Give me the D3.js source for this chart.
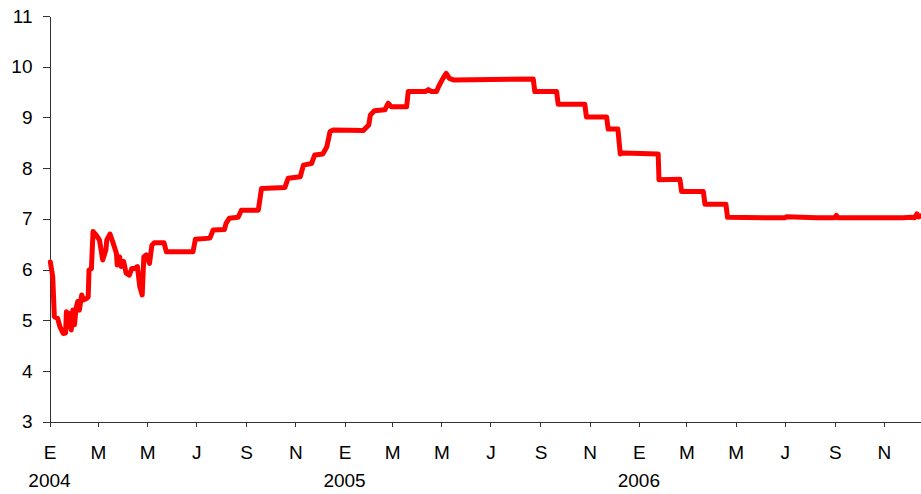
<!DOCTYPE html>
<html>
<head>
<meta charset="utf-8">
<script src="https://cdn.jsdelivr.net/npm/d3@7"></script>
<style>
  html, body { margin: 0; padding: 0; background: #fff; }
  svg { display: block; }
  .axis text { font-family: "Liberation Sans", Arial, sans-serif; font-size: 19px; fill: #000; }
  .axis path, .axis line { stroke: #333; stroke-width: 1; shape-rendering: crispEdges; }
</style>
</head>
<body>
<div id="chart"></div>
<script>
// data (daily rate, %)
var dates = [
  "2004-01-02","2004-01-05","2004-01-07","2004-01-11","2004-01-14","2004-01-18","2004-01-21","2004-01-22",
  "2004-01-24","2004-01-27","2004-01-28","2004-01-30","2004-02-01","2004-02-03","2004-02-05","2004-02-07",
  "2004-02-10","2004-02-12","2004-02-16","2004-02-18","2004-02-19","2004-02-22","2004-02-24","2004-02-28",
  "2004-03-03","2004-03-07","2004-03-11","2004-03-12","2004-03-16","2004-03-20","2004-03-24","2004-03-25",
  "2004-03-28","2004-03-30","2004-04-02","2004-04-05","2004-04-09","2004-04-12","2004-04-15","2004-04-19",
  "2004-04-22","2004-04-25","2004-04-27","2004-04-30","2004-05-04","2004-05-07","2004-05-10","2004-05-22",
  "2004-05-25","2004-06-27","2004-06-30","2004-07-18","2004-07-22","2004-08-05","2004-08-07","2004-08-11",
  "2004-08-22","2004-08-26","2004-09-16","2004-09-20","2004-10-19","2004-10-23","2004-11-07","2004-11-11",
  "2004-11-21","2004-11-25","2004-12-05","2004-12-10","2004-12-14","2004-12-18","2005-01-24","2005-01-31",
  "2005-02-02","2005-02-07","2005-02-20","2005-02-24","2005-02-28","2005-03-19","2005-03-21","2005-04-11",
  "2005-04-15","2005-04-19","2005-04-25","2005-04-28","2005-05-03","2005-05-07","2005-05-11","2005-05-16",
  "2005-08-23","2005-08-25","2005-09-21","2005-09-23","2005-10-26","2005-10-28","2005-11-22","2005-11-24",
  "2005-12-06","2005-12-09","2005-12-13","2006-01-25","2006-01-26","2006-02-21","2006-02-23","2006-03-22",
  "2006-03-24","2006-04-19","2006-04-21","2006-06-10","2006-07-01","2006-07-03","2006-08-10","2006-09-01",
  "2006-09-03","2006-09-05","2006-10-20","2006-11-25","2006-12-05","2006-12-09","2006-12-12","2006-12-14",
  "2006-12-17"
];
var rates = [
  6.15, 5.86, 5.07, 5.04, 4.87, 4.74, 4.75, 5.17,
  4.87, 5.14, 4.81, 5.20, 4.91, 5.24, 5.37, 5.20,
  5.50, 5.40, 5.43, 5.46, 5.99, 6.02, 6.75, 6.68,
  6.58, 6.19, 6.39, 6.58, 6.70, 6.52, 6.32, 6.09,
  6.25, 6.06, 6.16, 5.93, 5.89, 6.02, 6.02, 6.06,
  5.66, 5.50, 6.25, 6.29, 6.12, 6.48, 6.53, 6.53,
  6.35, 6.35, 6.60, 6.62, 6.78, 6.79, 6.91, 7.01,
  7.03, 7.17, 7.17, 7.60, 7.62, 7.80, 7.83, 8.06,
  8.09, 8.26, 8.28, 8.42, 8.72, 8.75, 8.74, 8.85,
  9.05, 9.13, 9.15, 9.28, 9.21, 9.21, 9.51, 9.51,
  9.55, 9.51, 9.51, 9.62, 9.77, 9.87, 9.77, 9.74,
  9.76, 9.51, 9.51, 9.26, 9.26, 9.01, 9.01, 8.77,
  8.77, 8.28, 8.30, 8.28, 7.77, 7.78, 7.54, 7.54,
  7.29, 7.29, 7.03, 7.02, 7.02, 7.04, 7.02, 7.02,
  7.07, 7.02, 7.02, 7.02, 7.03, 7.02, 7.10, 7.04,
  7.06
];
var yTicks = [3, 4, 5, 6, 7, 8, 9, 10, 11];
var monthLetters = ["E", "F", "M", "A", "M", "J", "J", "A", "S", "O", "N", "D"];
var startDate = "2004-01-01";
var endDate = "2006-12-17";

var width = 921, height = 494;
var margin = {left: 49.5, right: 0, top: 16, bottom: 72.3};

var parse = d3.timeParse("%Y-%m-%d");
var data = dates.map(function (d, i) { return {date: parse(d), value: rates[i]}; });

var x = d3.scaleTime()
    .domain([parse(startDate), parse(endDate)])
    .range([margin.left, width - margin.right]);
var y = d3.scaleLinear()
    .domain([3, 11])
    .range([height - margin.bottom, margin.top]);

var svg = d3.select("#chart").append("svg")
    .attr("width", width)
    .attr("height", height);

// y axis
var yAxis = svg.append("g")
    .attr("class", "axis")
    .attr("transform", "translate(" + margin.left + ",0)")
    .call(d3.axisLeft(y).tickValues(yTicks).tickSize(6.5).tickPadding(10.5).tickSizeOuter(0));

// x axis, a tick every two months
var monthTicks = d3.timeMonth.every(2).range(parse(startDate), parse(endDate));
var xAxis = svg.append("g")
    .attr("class", "axis")
    .attr("transform", "translate(0," + y(3) + ")")
    .call(d3.axisBottom(x).tickValues(monthTicks).tickSize(5).tickSizeOuter(0)
        .tickFormat(function (d) { return monthLetters[d.getMonth()]; }));
xAxis.selectAll(".tick text").attr("y", 23.5);

// year labels under each January
var years = monthTicks.filter(function (d) { return d.getMonth() === 0; });
xAxis.selectAll(".year")
    .data(years)
    .enter().append("text")
    .attr("class", "year")
    .attr("x", function (d) { return x(d); })
    .attr("y", 65.5)
    .attr("text-anchor", "middle")
    .text(function (d) { return d.getFullYear(); });

// the rate line
var line = d3.line()
    .x(function (d) { return x(d.date); })
    .y(function (d) { return y(d.value); });

svg.append("path")
    .datum(data)
    .attr("fill", "none")
    .attr("stroke", "#ff0000")
    .attr("stroke-width", 5)
    .attr("stroke-linejoin", "round")
    .attr("stroke-linecap", "round")
    .attr("d", line);
</script>
</body>
</html>
